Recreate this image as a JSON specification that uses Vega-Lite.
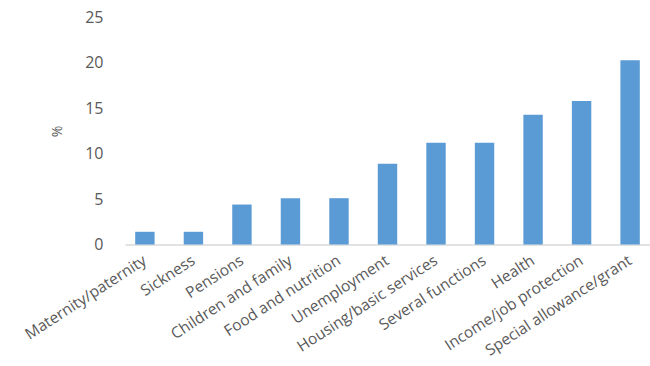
{
  "$schema": "https://vega.github.io/schema/vega-lite/v6.json",
  "autosize": "none",
  "width": 525,
  "height": 227,
  "padding": {"left": 125, "top": 17.5, "right": 0, "bottom": 121.5},
  "background": "white",
  "config": {"view": {"stroke": null}},
  "data": {
    "values": [
      {"category": "Maternity/paternity", "value": 1.4},
      {"category": "Sickness", "value": 1.4},
      {"category": "Pensions", "value": 4.4},
      {"category": "Children and family", "value": 5.1},
      {"category": "Food and nutrition", "value": 5.1},
      {"category": "Unemployment", "value": 8.9},
      {"category": "Housing/basic services", "value": 11.2},
      {"category": "Several functions", "value": 11.2},
      {"category": "Health", "value": 14.3},
      {"category": "Income/job protection", "value": 15.8},
      {"category": "Special allowance/grant", "value": 20.3}
    ]
  },
  "mark": {"type": "bar", "color": "#5b9bd5"},
  "encoding": {
    "x": {
      "field": "category",
      "type": "nominal",
      "sort": null,
      "scale": {"paddingInner": 0.6, "paddingOuter": 0.21},
      "axis": {
        "title": null,
        "labelAngle": -33,
        "labelAlign": "right",
        "labelBaseline": "middle",
        "labelPadding": 14,
        "ticks": false,
        "domainColor": "#d9d9d9",
        "domainWidth": 1.5,
        "labelFont": "Open Sans",
        "labelFontSize": 15.5,
        "labelColor": "#595959",
        "labelLimit": 300
      }
    },
    "y": {
      "field": "value",
      "type": "quantitative",
      "scale": {"domain": [0, 25]},
      "axis": {
        "values": [0, 5, 10, 15, 20, 25],
        "grid": false,
        "domain": false,
        "ticks": false,
        "labelPadding": 22,
        "labelFont": "Open Sans",
        "labelFontSize": 16,
        "labelColor": "#595959",
        "title": "%",
        "titleFont": "Open Sans",
        "titleFontSize": 14,
        "titleFontWeight": "normal",
        "titleColor": "#595959",
        "titlePadding": 20
      }
    }
  }
}
